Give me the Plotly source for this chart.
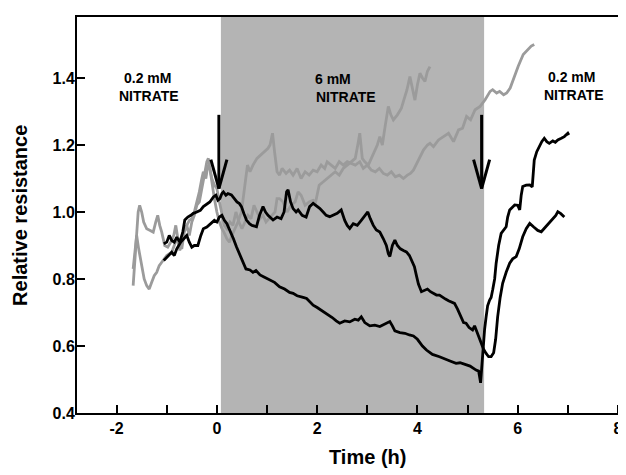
import plotly.graph_objects as go

# ---------------- data ----------------
black_a_x = [-1.06,-1.0,-0.95,-0.9,-0.85,-0.8,-0.72,-0.65,-0.6,-0.55,-0.5,-0.45,-0.38,-0.32,-0.27,-0.2,-0.12,-0.05,0.0,0.05,0.1,0.15,0.2,0.26,0.33,0.39,0.46,0.52,0.58,0.66,0.72,0.78,0.86,0.95,1.06,1.15,1.25,1.35,1.45,1.52,1.6,1.65,1.72,1.79,1.86,1.92,2.0,2.1,2.18,2.3,2.38,2.45,2.55,2.65,2.75,2.82,2.88,2.95,3.05,3.15,3.25,3.35,3.45,3.5,3.55,3.65,3.75,3.84,3.92,4.0,4.1,4.18,4.3,4.44,4.55,4.65,4.77,4.85,4.95,5.05,5.17,5.22,5.24,5.26,5.28,5.31,5.34,5.37,5.4,5.44,5.47,5.5,5.54,5.57,5.62,5.67,5.72,5.77,5.8,5.84,5.9,5.94,6.0,6.04,6.07,6.1,6.17,6.24,6.29,6.31,6.33,6.38,6.43,6.48,6.53,6.58,6.63,6.7,6.75,6.8,6.87,6.93,7.0,7.02]
black_a_y = [0.855,0.865,0.87,0.88,0.87,0.89,0.91,0.92,0.93,0.91,0.895,0.90,0.90,0.93,0.95,0.955,0.965,0.975,0.97,0.985,0.99,0.975,0.965,0.946,0.92,0.896,0.87,0.847,0.83,0.827,0.82,0.825,0.812,0.805,0.797,0.79,0.777,0.77,0.76,0.757,0.75,0.747,0.745,0.742,0.73,0.722,0.715,0.705,0.698,0.685,0.675,0.668,0.675,0.672,0.68,0.677,0.687,0.67,0.66,0.662,0.658,0.665,0.673,0.66,0.645,0.64,0.638,0.633,0.63,0.62,0.60,0.588,0.575,0.568,0.56,0.555,0.548,0.55,0.545,0.54,0.528,0.525,0.508,0.49,0.53,0.608,0.65,0.687,0.72,0.737,0.745,0.767,0.80,0.847,0.90,0.936,0.945,0.956,0.985,1.006,1.015,1.021,1.02,1.006,1.05,1.076,1.08,1.081,1.075,1.12,1.155,1.18,1.195,1.21,1.22,1.21,1.205,1.212,1.208,1.215,1.22,1.225,1.235,1.23]

black_b_x = [-1.06,-1.0,-0.95,-0.9,-0.85,-0.8,-0.74,-0.68,-0.64,-0.58,-0.52,-0.47,-0.4,-0.33,-0.27,-0.2,-0.14,-0.07,-0.02,0.02,0.06,0.1,0.13,0.18,0.22,0.29,0.34,0.4,0.45,0.49,0.54,0.59,0.65,0.7,0.79,0.85,0.92,0.97,1.02,1.08,1.12,1.2,1.28,1.34,1.39,1.42,1.47,1.52,1.58,1.62,1.7,1.78,1.85,1.92,1.98,2.05,2.12,2.18,2.25,2.32,2.4,2.48,2.55,2.6,2.65,2.72,2.8,2.88,2.95,3.01,3.06,3.12,3.18,3.25,3.32,3.38,3.42,3.45,3.5,3.55,3.6,3.66,3.72,3.78,3.84,3.9,3.94,3.98,4.02,4.08,4.14,4.2,4.26,4.32,4.38,4.44,4.5,4.56,4.62,4.68,4.74,4.8,4.86,4.92,4.97,5.03,5.1,5.14,5.18,5.22,5.27,5.32,5.37,5.42,5.47,5.52,5.56,5.6,5.65,5.7,5.77,5.84,5.9,5.97,6.03,6.1,6.17,6.24,6.32,6.4,6.47,6.55,6.63,6.7,6.76,6.8,6.86,6.93]
black_b_y = [0.905,0.91,0.93,0.915,0.91,0.925,0.91,0.94,0.976,0.985,0.99,0.996,1.0,1.005,1.016,1.025,1.03,1.045,1.05,1.035,1.04,1.055,1.06,1.05,1.055,1.051,1.04,1.03,1.025,1.016,0.995,0.976,0.965,0.96,0.956,0.99,1.016,1.0,0.99,0.98,0.976,0.985,0.98,1.0,1.06,1.066,1.03,1.01,1.0,1.006,0.99,0.985,1.016,1.026,1.02,1.011,1.0,0.99,0.986,0.99,0.996,1.006,0.975,0.96,0.951,0.965,0.96,0.975,0.99,1.0,0.98,0.96,0.946,0.94,0.92,0.9,0.875,0.867,0.9,0.916,0.9,0.89,0.885,0.881,0.87,0.85,0.837,0.81,0.785,0.762,0.765,0.77,0.762,0.758,0.752,0.752,0.745,0.74,0.735,0.73,0.727,0.71,0.69,0.67,0.668,0.655,0.648,0.66,0.645,0.63,0.608,0.59,0.578,0.568,0.568,0.58,0.62,0.687,0.745,0.787,0.82,0.847,0.86,0.867,0.89,0.926,0.95,0.966,0.955,0.945,0.941,0.955,0.966,0.98,0.99,1.001,0.995,0.985]

gray_a_x = [-1.67,-1.64,-1.6,-1.56,-1.5,-1.45,-1.4,-1.35,-1.3,-1.25,-1.2,-1.15,-1.1,-1.0,-0.9,-0.85,-0.8,-0.75,-0.7,-0.65,-0.6,-0.55,-0.5,-0.45,-0.4,-0.35,-0.3,-0.25,-0.2,-0.17,-0.13,-0.1,-0.05,0.0,0.05,0.1,0.14,0.2,0.25,0.3,0.36,0.42,0.49,0.53,0.57,0.61,0.66,0.72,0.8,0.88,0.96,1.02,1.06,1.11,1.15,1.2,1.25,1.3,1.38,1.45,1.52,1.6,1.68,1.76,1.84,1.92,2.0,2.08,2.15,2.2,2.28,2.36,2.44,2.52,2.6,2.68,2.76,2.85,2.92,3.0,3.08,3.16,3.24,3.32,3.4,3.48,3.56,3.64,3.72,3.8,3.86,3.92,4.03,4.12,4.2,4.25,4.32,4.42,4.52,4.62,4.72,4.82,4.9,4.98,5.06,5.15,5.25,5.35,5.45,5.5,5.58,5.64,5.72,5.78,5.85,5.91,6.01,6.11,6.21,6.27,6.33]
gray_a_y = [0.83,0.87,0.93,0.89,0.84,0.80,0.78,0.77,0.79,0.81,0.82,0.84,0.85,0.87,0.88,0.90,0.92,0.90,0.89,0.94,0.96,0.93,0.97,0.99,1.02,1.03,1.07,1.11,1.15,1.16,1.12,1.08,1.04,1.0,0.97,0.95,0.94,0.92,0.91,0.93,0.95,0.97,1.0,1.05,1.1,1.14,1.12,1.14,1.16,1.17,1.18,1.19,1.2,1.235,1.18,1.12,1.11,1.13,1.115,1.125,1.11,1.13,1.10,1.12,1.11,1.125,1.12,1.14,1.13,1.15,1.14,1.13,1.15,1.14,1.15,1.145,1.14,1.15,1.13,1.14,1.125,1.12,1.13,1.115,1.11,1.12,1.105,1.11,1.10,1.11,1.115,1.125,1.16,1.185,1.20,1.205,1.195,1.215,1.225,1.235,1.21,1.245,1.25,1.285,1.275,1.305,1.315,1.335,1.36,1.365,1.355,1.36,1.35,1.355,1.37,1.395,1.435,1.47,1.485,1.495,1.50]

gray_b_x = [-1.67,-1.64,-1.61,-1.57,-1.54,-1.5,-1.46,-1.4,-1.33,-1.27,-1.22,-1.18,-1.14,-1.1,-1.04,-0.98,-0.92,-0.86,-0.82,-0.78,-0.74,-0.7,-0.66,-0.6,-0.55,-0.5,-0.45,-0.4,-0.35,-0.3,-0.27,-0.22,-0.18,-0.14,-0.1,-0.05,0.0,0.05,0.1,0.15,0.2,0.26,0.32,0.38,0.44,0.5,0.56,0.62,0.68,0.74,0.8,0.86,0.92,0.98,1.04,1.1,1.16,1.2,1.25,1.32,1.4,1.48,1.56,1.62,1.68,1.76,1.84,1.92,1.97,2.04,2.12,2.2,2.28,2.36,2.44,2.52,2.6,2.68,2.76,2.81,2.85,2.9,2.95,3.02,3.08,3.14,3.2,3.25,3.3,3.36,3.42,3.47,3.52,3.6,3.68,3.74,3.79,3.85,3.9,3.95,4.0,4.05,4.1,4.15,4.2,4.25]
gray_b_y = [0.78,0.85,0.93,1.0,1.02,1.0,0.97,0.95,0.945,0.94,0.97,0.99,0.96,0.94,0.90,0.895,0.91,0.93,0.96,0.92,0.885,0.92,0.95,0.96,0.975,0.98,1.0,1.03,1.06,1.10,1.12,1.10,1.14,1.13,1.10,1.08,1.07,1.03,0.99,0.96,0.95,0.97,0.96,1.0,0.97,0.95,0.97,0.99,0.98,1.02,1.0,0.98,0.99,0.97,0.98,0.99,1.0,1.04,1.04,1.03,1.0,1.02,1.03,1.06,1.05,1.02,1.03,1.035,1.03,1.08,1.09,1.10,1.11,1.12,1.11,1.13,1.14,1.15,1.16,1.20,1.235,1.16,1.15,1.14,1.16,1.18,1.20,1.225,1.20,1.26,1.315,1.29,1.275,1.29,1.31,1.34,1.364,1.404,1.37,1.334,1.38,1.414,1.40,1.39,1.42,1.434]

# treatment period (shaded) and arrows marking medium changes
shade_start, shade_end = 0.08, 5.33
arrow_x = [0.04, 5.28]
arrow_top, arrow_tip = 1.29, 1.07
head_dx, head_dy = 0.16, 0.086

labels = [  # (text, x, y)
    ("0.2 mM", -1.39, 1.40), ("NITRATE", -1.35, 1.346),
    ("6 mM", 2.32, 1.398), ("NITRATE", 2.57, 1.344),
    ("0.2 mM", 7.07, 1.403), ("NITRATE", 7.12, 1.349),
]

x_tickvals = list(range(-2, 9))
x_ticktext = [str(v) if v % 2 == 0 else "" for v in x_tickvals]
y_tickvals = [0.4, 0.6, 0.8, 1.0, 1.2, 1.4]
y_ticktext = ["0.4", "0.6", "0.8", "1.0", "1.2", "1.4"]

FONT = "Liberation Sans, Arial, sans-serif"
GRAY = "#9b9b9b"

fig = go.Figure()
for xs, ys, col in [(gray_a_x, gray_a_y, GRAY), (gray_b_x, gray_b_y, GRAY),
                    (black_b_x, black_b_y, "black"), (black_a_x, black_a_y, "black")]:
    fig.add_trace(go.Scatter(x=xs, y=ys, mode="lines",
                             line=dict(color=col, width=2.8), showlegend=False))

shapes = [dict(type="rect", xref="x", yref="paper", x0=shade_start, x1=shade_end,
               y0=0, y1=1, fillcolor="#b4b4b4", line=dict(width=0), layer="below")]
for ax in arrow_x:
    shapes.append(dict(type="line", xref="x", yref="y", x0=ax, x1=ax, y0=arrow_top, y1=arrow_tip,
                       line=dict(color="black", width=3)))
    shapes.append(dict(type="line", xref="x", yref="y", x0=ax - head_dx, x1=ax, y0=arrow_tip + head_dy,
                       y1=arrow_tip, line=dict(color="black", width=3)))
    shapes.append(dict(type="line", xref="x", yref="y", x0=ax + head_dx, x1=ax, y0=arrow_tip + head_dy,
                       y1=arrow_tip, line=dict(color="black", width=3)))

annotations = [dict(text=f"<b>{t}</b>", x=x, y=y, xref="x", yref="y", showarrow=False,
                    font=dict(family=FONT, size=14, color="black")) for t, x, y in labels]
annotations.append(dict(text="<b>Time (h)</b>", x=0.53, y=-0.11, xref="paper", yref="paper",
                        xanchor="center", yanchor="middle",
                        showarrow=False, font=dict(family=FONT, size=20, color="black")))
annotations.append(dict(text="<b>Relative resistance</b>", x=-0.104, y=0.5, xref="paper", yref="paper",
                        xanchor="center", yanchor="middle",
                        textangle=-90, showarrow=False, font=dict(family=FONT, size=20, color="black")))

# the page body adds an 8 px offset, so the figure is 8 px smaller and margins are reduced
fig.update_layout(
    width=618, height=467,
    margin=dict(l=69, r=0, t=9, b=62),
    paper_bgcolor="white", plot_bgcolor="white",
    shapes=shapes, annotations=annotations,
    font=dict(family=FONT, color="black"),
    xaxis=dict(range=[-2.79, 8.16], tickvals=x_tickvals, ticktext=[f"<b>{t}</b>" if t else "" for t in x_ticktext],
               ticks="inside", ticklen=8, tickwidth=2, tickcolor="black",
               showline=True, linewidth=2, linecolor="black", mirror=True,
               showgrid=False, zeroline=False, tickfont=dict(family=FONT, size=16, color="black")),
    yaxis=dict(range=[0.4, 1.582], tickvals=y_tickvals, ticktext=[f"<b>{t}</b>" for t in y_ticktext],
               ticks="inside", ticklen=8, tickwidth=2, tickcolor="black", ticklabelstandoff=-3,
               showline=True, linewidth=2, linecolor="black", mirror=False,
               showgrid=False, zeroline=False, tickfont=dict(family=FONT, size=16, color="black")),
)

fig.write_html("out.html")
